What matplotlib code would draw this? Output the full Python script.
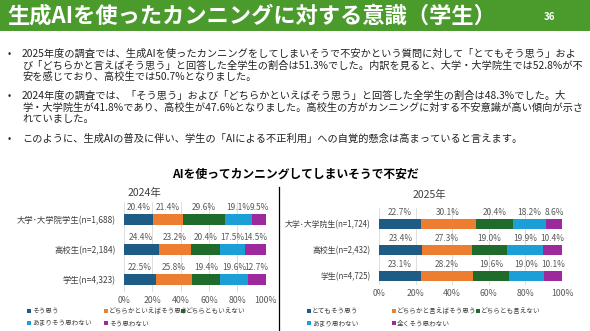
import matplotlib
matplotlib.use("Agg")
import matplotlib.pyplot as plt
from matplotlib.patches import Rectangle
from matplotlib.lines import Line2D

plt.rcParams['font.family'] = ['Noto Sans CJK JP', 'DejaVu Sans']

# Data
title = "生成AIを使ったカンニングに対する意識（学生）"
page_no = "36"
chart_title = "AIを使ってカンニングしてしまいそうで不安だ"

bullets = [
    ["2025年度の調査では、生成AIを使ったカンニングをしてしまいそうで不安かという質問に対して「とてもそう思う」およ",
     "び「どちらかと言えばそう思う」と回答した全学生の割合は51.3%でした。内訳を見ると、大学・大学院生では52.8%が不",
     "安を感じており、高校生では50.7%となりました。"],
    ["2024年度の調査では、「そう思う」および「どちらかといえばそう思う」と回答した全学生の割合は48.3%でした。大",
     "学・大学院生が41.8%であり、高校生が47.6%となりました。高校生の方がカンニングに対する不安意識が高い傾向が示さ",
     "れていました。"],
    ["このように、生成AIの普及に伴い、学生の「AIによる不正利用」への自覚的懸念は高まっていると言えます。"],
]

groups_2024 = ["大学･大学院学生(n=1,688)", "高校生(n=2,184)", "学生(n=4,323)"]
labels_2024 = ["そう思う", "どちらかといえばそう思う", "どちらともいえない", "あまりそう思わない", "そう思わない"]
values_2024 = [
    [20.4, 21.4, 29.6, 19.1, 9.5],
    [24.4, 23.2, 20.4, 17.5, 14.5],
    [22.5, 25.8, 19.4, 19.6, 12.7],
]

groups_2025 = ["大学･大学院生(n=1,724)", "高校生(n=2,432)", "学生(n=4,725)"]
labels_2025 = ["とてもそう思う", "どちらかと言えばそう思う", "どちらとも言えない", "あまり思わない", "全くそう思わない"]
values_2025 = [
    [22.7, 30.1, 20.4, 18.2, 8.6],
    [23.4, 27.3, 19.0, 19.9, 10.4],
    [23.1, 28.2, 19.6, 19.0, 10.1],
]

colors = ["#1f5c85", "#ed7d31", "#1e6b2c", "#1c9fd6", "#9c2a9c"]

W, H = 590, 331
fig = plt.figure(figsize=(W / 100, H / 100), dpi=100)


def fx(x):
    return x / W


def fy(y):
    return 1 - y / H


# Header bar
fig.patches.append(Rectangle((0, fy(31)), 1, 31 / H, transform=fig.transFigure,
                             facecolor="#4a9a2c", edgecolor="none"))
fig.text(fx(7), fy(16), title, color="white", fontsize=16, fontweight="bold", va="center", ha="left")
fig.text(fx(550), fy(17), page_no, color="white", fontsize=7, fontweight="bold", va="center", ha="center")

# Bullets
line_y = [[54, 66, 77], [96, 108, 119], [139]]
for lines, ys in zip(bullets, line_y):
    fig.text(fx(8), fy(ys[0]), "•", fontsize=7, va="center", ha="left", color="#222222")
    for txt, y in zip(lines, ys):
        fig.text(fx(22), fy(y), txt, fontsize=7.35, va="center", ha="left", color="#222222")

fig.text(0.5, fy(174), chart_title, fontsize=8.5, fontweight="bold", ha="center", va="center")

# separator
fig.add_artist(Line2D([fx(279), fx(279)], [fy(187), 0], transform=fig.transFigure, color="black", lw=0.9))


def draw_chart(rect, ylim, groups, values, labels, year, year_xy, leg_x, bar_h, lab_fs):
    ax = fig.add_axes(rect)
    for i, row in enumerate(values):
        left = 0
        for j, v in enumerate(row):
            ax.barh(i, v, left=left, height=bar_h, color=colors[j], zorder=2)
            ax.text(left + v / 2, i - bar_h / 2 - 0.07, f"{v:.1f}%", ha="center", va="bottom",
                    fontsize=6, color="#595959")
            left += v
    ax.set_xlim(0, 100)
    ax.set_ylim(*ylim)
    ax.set_yticks(range(len(groups)))
    ax.set_yticklabels(groups, fontsize=lab_fs, color="#404040")
    ax.set_xticks(range(0, 101, 20))
    ax.set_xticklabels([f"{t}%" for t in range(0, 101, 20)], fontsize=6.3, color="#595959")
    ax.tick_params(length=0, pad=3)
    ax.tick_params(axis="y", pad=6)
    ax.grid(axis="x", color="#d9d9d9", lw=0.6, zorder=0)
    for s in ax.spines.values():
        s.set_visible(False)
    fig.text(fx(year_xy[0]), fy(year_xy[1]), year, fontsize=7.5, color="#404040", ha="left", va="center")
    # legend
    pos = [(leg_x[0], 311), (leg_x[1], 311), (leg_x[2], 311), (leg_x[0], 323), (leg_x[1], 323)]
    for (lx, ly), lab, c in zip(pos, labels, colors):
        fig.patches.append(Rectangle((fx(lx), fy(ly + 2)), 4 / W, 4 / H, transform=fig.transFigure,
                                     facecolor=c, edgecolor="none"))
        fig.text(fx(lx + 5), fy(ly), lab, fontsize=4.8, color="#404040", ha="left", va="center")
    return ax


draw_chart([fx(124), fy(291.5), fx(265.7) - fx(124), 90 / H], (2.4, -0.6),
           groups_2024, values_2024, labels_2024, "2024年", (128, 193), (27, 104, 181), 0.37, 6)
draw_chart([fx(379), fy(285), fx(562) - fx(379), 76.6 / H], (2.35, -0.6),
           groups_2025, values_2025, labels_2025, "2025年", (413, 195), (307, 392, 476), 0.4, 5.7)

fig.savefig("out.png", dpi=100)
